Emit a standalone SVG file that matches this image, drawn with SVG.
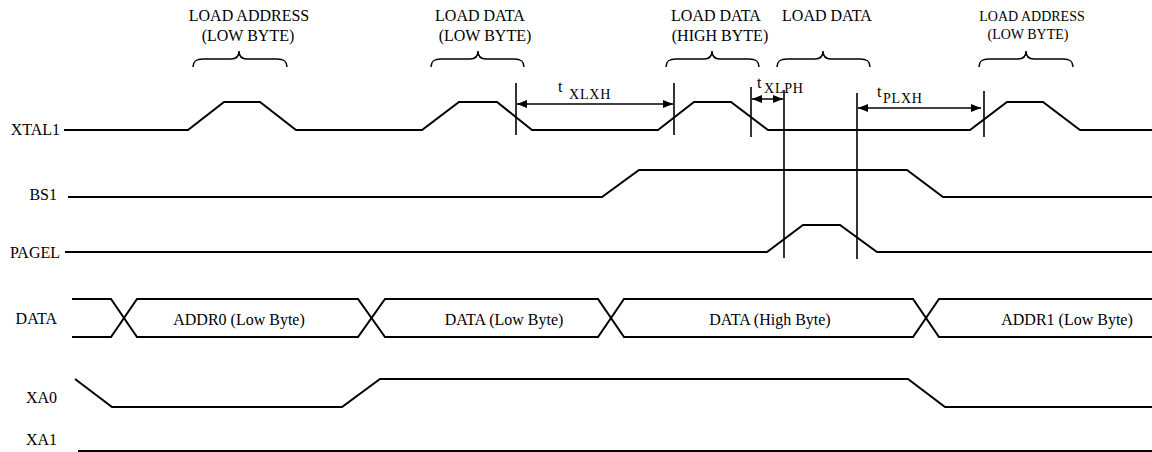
<svg xmlns="http://www.w3.org/2000/svg" width="1152" height="452" viewBox="0 0 1152 452" font-family="'Liberation Serif', 'Times New Roman', Tinos, 'DejaVu Serif', serif">
<style>
text{fill:#000;font-size:16px}
.lbl{text-anchor:end}
.mid{text-anchor:middle}
.sm{font-size:14px}
.sub{font-size:14px;letter-spacing:0.8px}
.sig{fill:none;stroke:#000;stroke-width:2;stroke-linejoin:miter}
.brace{fill:none;stroke:#000;stroke-width:1.5}
.vl{stroke:#000;stroke-width:1.6}
.arr{stroke:#000;stroke-width:1.5;marker-start:url(#ah);marker-end:url(#ah)}
</style>
<defs>
<marker id="ah" viewBox="0 0 10 8" refX="10" refY="4" markerWidth="10" markerHeight="8" markerUnits="userSpaceOnUse" orient="auto-start-reverse">
<path d="M0,0 L10,4 L0,8 Z" fill="#000"/>
</marker>
</defs>
<rect width="1152" height="452" fill="#fff"/>

<g id="label-load-addr-1">
<text class="mid" x="249" y="21">LOAD ADDRESS</text>
<text class="mid" x="248" y="41">(LOW BYTE)</text>
<path class="brace" d="M193,67 C193,61 196,59 203,59 L231,59 C236,59 239,57 239,51 C239,57 242,59 247,59 L277,59 C284,59 287,61 287,67"/>
</g>
<g id="label-load-data-low">
<text class="mid" x="480" y="21">LOAD DATA</text>
<text class="mid" x="485" y="41">(LOW BYTE)</text>
<path class="brace" d="M431,67 C431,61 434,59 441,59 L470,59 C475,59 478,57 478,51 C478,57 481,59 486,59 L514,59 C521,59 524,61 524,67"/>
</g>
<g id="label-load-data-high">
<text class="mid" x="716" y="21">LOAD DATA</text>
<text class="mid" x="720" y="41">(HIGH BYTE)</text>
<path class="brace" d="M666,67 C666,61 669,59 676,59 L704,59 C709,59 712,57 712,51 C712,57 715,59 720,59 L749,59 C756,59 759,61 759,67"/>
</g>
<g id="label-load-data-page">
<text class="mid" x="827" y="21">LOAD DATA</text>
<path class="brace" d="M777,67 C777,61 780,59 787,59 L815,59 C820,59 823,57 823,51 C823,57 826,59 831,59 L860,59 C867,59 870,61 870,67"/>
</g>
<g id="label-load-addr-2">
<text class="mid sm" x="1032" y="21">LOAD ADDRESS</text>
<text class="mid sm" x="1028" y="39">(LOW BYTE)</text>
<path class="brace" d="M979,67 C979,61 982,59 989,59 L1018,59 C1023,59 1026,57 1026,51 C1026,57 1029,59 1034,59 L1063,59 C1070,59 1073,61 1073,67"/>
</g>

<g id="sig-xtal1">
<text class="lbl" x="60" y="135">XTAL1</text>
<path class="sig" d="M64,130 L188,130 L224,102 L260,102 L296,130 L422,130 L459,102 L497,102 L532,130 L658,130 L694,102 L731,102 L768,130 L970,130 L1007,102 L1043,102 L1080,130 L1152,130"/>
</g>
<g id="sig-bs1">
<text class="lbl" x="57" y="200">BS1</text>
<path class="sig" d="M68,197 L602,197 L639,170 L907,170 L943,197 L1152,197"/>
</g>
<g id="sig-pagel">
<text class="lbl" x="60" y="258">PAGEL</text>
<path class="sig" d="M65,252 L767,252 L803,225 L840,225 L877,252 L1152,252"/>
</g>
<g id="sig-data">
<text class="lbl" x="57" y="324">DATA</text>
<path class="sig" d="M72,299 L111,299 L137,337 L358,337 L385,299 L598,299 L624,337 L913,337 L939,299 L1152,299"/>
<path class="sig" d="M72,337 L111,337 L137,299 L358,299 L385,337 L598,337 L624,299 L913,299 L939,337 L1152,337"/>
<text class="mid" x="239" y="325">ADDR0 (Low Byte)</text>
<text class="mid" x="504" y="325">DATA (Low Byte)</text>
<text class="mid" x="770" y="325">DATA (High Byte)</text>
<text class="mid" x="1067" y="325">ADDR1 (Low Byte)</text>
</g>
<g id="sig-xa0">
<text class="lbl" x="57" y="403">XA0</text>
<path class="sig" d="M75,379 L112,407 L342,407 L380,379 L908,379 L945,407 L1152,407"/>
</g>
<g id="sig-xa1">
<text class="lbl" x="57" y="445">XA1</text>
<path class="sig" d="M78,451 L1152,451"/>
</g>

<g id="connectors">
<line class="vl" x1="516" y1="83" x2="516" y2="135"/>
<line class="vl" x1="674" y1="83" x2="674" y2="135"/>
<line class="vl" x1="751" y1="87" x2="751" y2="137"/>
<line class="vl" x1="784" y1="90" x2="784" y2="258"/>
<line class="vl" x1="857" y1="93" x2="857" y2="259"/>
<line class="vl" x1="984" y1="91" x2="984" y2="137"/>
<line class="arr" x1="517" y1="104" x2="673" y2="104"/>
<line class="arr" x1="752" y1="99" x2="783" y2="99"/>
<line class="arr" x1="858" y1="108" x2="981" y2="108"/>
</g>
<g id="timing-labels">
<text x="558" y="92">t<tspan class="sub" x="569" y="99">XLXH</tspan></text>
<text x="757" y="88">t<tspan class="sub" x="764" y="93">XLPH</tspan></text>
<text x="877" y="97">t<tspan class="sub" x="883" y="103">PLXH</tspan></text>
</g>
</svg>
